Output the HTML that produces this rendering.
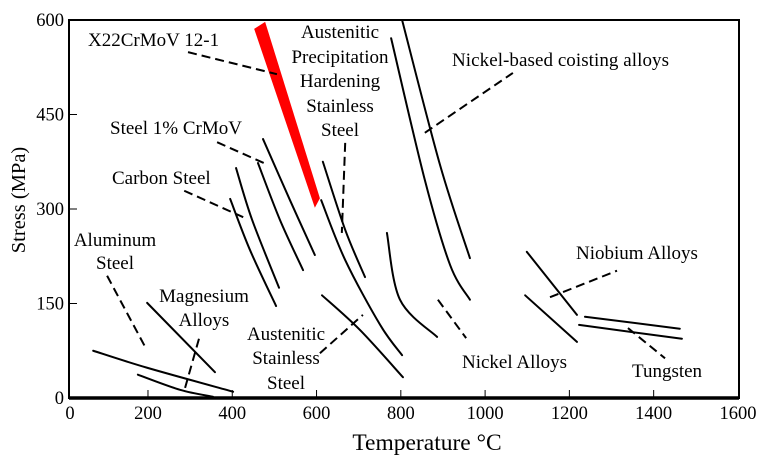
<!DOCTYPE html>
<html><head><meta charset="utf-8"><style>
body{margin:0;background:#fff;}
svg{display:block;font-family:"Liberation Serif",serif;}
</style></head><body>
<svg id="chart" width="760" height="465" viewBox="0 0 760 465" xmlns="http://www.w3.org/2000/svg">
<g id="plot"></g>
<g id="labels" font-size="19" fill="#000">
<text x="88" y="46">X22CrMoV 12-1</text>
<g text-anchor="middle">
<text x="340" y="38">Austenitic</text><text x="340" y="63">Precipitation</text><text x="340" y="87">Hardening</text><text x="340" y="112">Stainless</text><text x="340" y="136">Steel</text></g>
<text x="452" y="66" textLength="217">Nickel-based coisting alloys</text>
<text x="110" y="134">Steel 1% CrMoV</text>
<text x="112" y="184">Carbon Steel</text>
<g text-anchor="middle"><text x="115" y="246">Aluminum</text><text x="115" y="269">Steel</text></g>
<g text-anchor="middle"><text x="204" y="302">Magnesium</text><text x="204" y="326">Alloys</text></g>
<g text-anchor="middle"><text x="286" y="340">Austenitic</text><text x="286" y="364">Stainless</text><text x="286" y="389">Steel</text></g>
<text x="462" y="368">Nickel Alloys</text>
<text x="576" y="259">Niobium Alloys</text>
<text x="632" y="377">Tungsten</text>
</g>
<text font-size="20.5" text-anchor="middle" transform="translate(25,200) rotate(-90)">Stress (MPa)</text>
<text font-size="23.5" text-anchor="middle" x="427" y="450">Temperature °C</text>
</svg>
<script>
const xTicks=[0,200,400,600,800,1000,1200,1400,1600];
const yTicks=[0,150,300,450,600];
const alumA=[[70,75],[198,48],[402,10]];
const alumB=[[176,37],[276,13],[354,2]];
const magnesium=[[198,151],[359,41]];
const carbon1=[[395,316],[442,235],[504,146]];
const carbon2=[[409,365],[447,283],[511,175]];
const crmov1=[[461,373],[513,283],[568,203]];
const crmov2=[[473,411],[537,314],[596,227]];
const austP1=[[615,375],[668,267],[715,192]];
const austP2=[[611,314],[668,219],[751,116],[803,68]];
const austS=[[613,163],[703,108],[805,33]];
const nickel1=[[767,262],[798,156],[886,97]];
const nickelDash=[[888,156],[955,95]];
const niBased1=[[803,600],[893,370],[964,222]];
const niBased2=[[777,571],[857,346],[917,211],[964,156]];
const niobium1=[[1099,232],[1218,132]];
const niobium2=[[1095,163],[1218,89]];
const tungsten1=[[1237,129],[1462,110]];
const tungsten2=[[1223,116],[1467,94]];
const x22band=[[452,586],[478,597],[608,317],[596,302]];
const leaders={x22:[[295,549],[506,514]],crmov:[[364,406],[485,370]],carbon:[[286,329],[426,287]],alum:[[103,194],[195,79]],mg:[[321,94],[288,16]],austP:[[668,405],[660,262]],austS:[[608,71],[710,132]],niBased:[[857,421],[1066,516]],nb:[[1154,160],[1313,202]],w:[[1339,111],[1427,63]]};
const X=v=>63.7+v*0.4214;
const Y=v=>398-v*0.63;
const NS='http://www.w3.org/2000/svg';
const plot=document.getElementById('plot');
function mk(t,a){const e=document.createElementNS(NS,t);for(const k in a)e.setAttribute(k,a[k]);plot.appendChild(e);return e;}
function smooth(pts){const p=pts.map(d=>[X(d[0]),Y(d[1])]);let s='M'+p[0][0]+','+p[0][1];
 if(p.length==2)return s+'L'+p[1][0]+','+p[1][1];
 for(let i=0;i<p.length-1;i++){const p0=p[i-1]||p[i],p1=p[i],p2=p[i+1],p3=p[i+2]||p2;
  s+='C'+(p1[0]+(p2[0]-p0[0])/6)+','+(p1[1]+(p2[1]-p0[1])/6)+' '+(p2[0]-(p3[0]-p1[0])/6)+','+(p2[1]-(p3[1]-p1[1])/6)+' '+p2[0]+','+p2[1];}
 return s;}
let f=mk('rect',{x:69,y:20,width:670,height:378,fill:'none',stroke:'#000','stroke-width':2});


let ab=mk('line',{x1:69,y1:398,x2:739,y2:398,stroke:'#000','stroke-width':3.5});


xTicks.forEach(v=>{
 if(v>0&&v<1600){
  const t=mk('line',{x1:X(v),x2:X(v),y1:398,y2:390,stroke:'#000','stroke-width':1});
  
  
 }
 const l=mk('text',{x:Math.max(X(v),70),y:419,'font-size':18.5,'text-anchor':'middle'});l.textContent=v;
 
 
});
yTicks.forEach(v=>{
 if(v>0&&v<600){
  const t=mk('line',{x1:69,x2:77,y1:Y(v),y2:Y(v),stroke:'#000','stroke-width':1});
  
  
 }
 const l=mk('text',{x:64,y:Y(v)+6,'font-size':18.5,'text-anchor':'end'});l.textContent=v;
 
 
});
const band=mk('polygon',{points:x22band.map(d=>X(d[0])+','+Y(d[1])).join(' '),fill:'#ff0000'});


const curves={'aluminum-curve-a':alumA,'aluminum-curve-b':alumB,'magnesium-curve':magnesium,'carbon-steel-curve-1':carbon1,'carbon-steel-curve-2':carbon2,'crmov-curve-1':crmov1,'crmov-curve-2':crmov2,'aust-precip-curve-1':austP1,'aust-precip-curve-2':austP2,'aust-stainless-curve':austS,'nickel-alloy-curve':nickel1,'nickel-based-curve-1':niBased1,'nickel-based-curve-2':niBased2,'niobium-curve-1':niobium1,'niobium-curve-2':niobium2,'tungsten-curve-1':tungsten1,'tungsten-curve-2':tungsten2};
for(const n in curves){
 const c=mk('path',{d:smooth(curves[n]),fill:'none',stroke:'#000','stroke-width':2,'stroke-linecap':'round'});
 
 
}
const nd=mk('path',{d:smooth(nickelDash),fill:'none',stroke:'#000','stroke-width':2,'stroke-dasharray':'9,5'});


for(const n in leaders){
 const l=mk('path',{d:smooth(leaders[n]),fill:'none',stroke:'#000','stroke-width':2,'stroke-dasharray':'9,5'});
 
 
}
</script>
</body></html>
